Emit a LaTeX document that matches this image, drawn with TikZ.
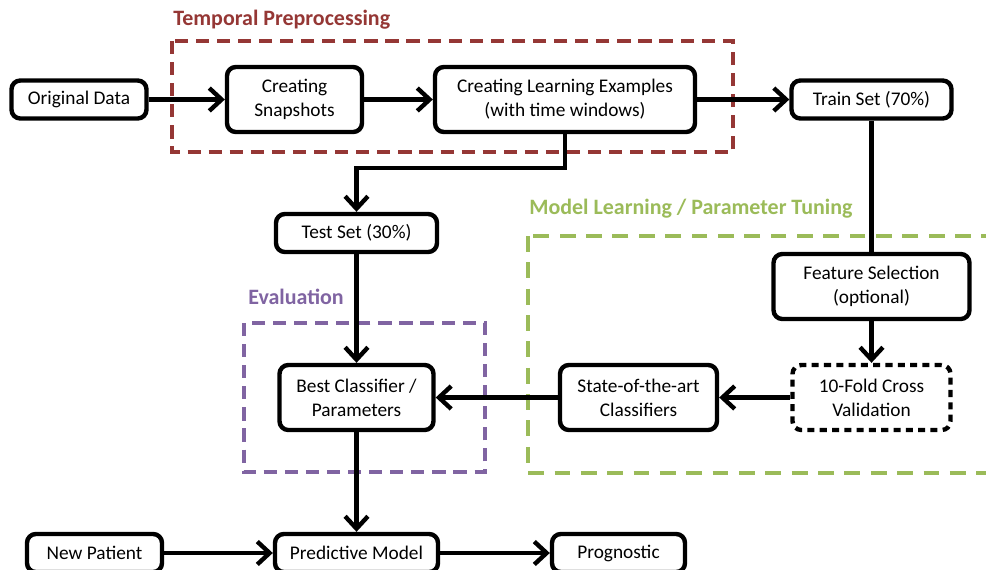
\documentclass[tikz,border=0pt]{standalone}
\usepackage{fontspec}
\setmainfont{Carlito}
\usetikzlibrary{arrows.meta}
\definecolor{prepred}{HTML}{953735}
\definecolor{learngreen}{HTML}{9BBB59}
\definecolor{evalpurple}{HTML}{8064A2}

\begin{document}
\begin{tikzpicture}[
    x=0.02cm, y=-0.02cm,
    font=\fontsize{11}{13.6}\selectfont,
    block/.style={
        draw,
        line width=2.5pt,
        rounded corners=5pt,
        align=center,
        inner sep=2pt,
        fill=white,
        minimum height=0.76cm,
      },
    tall/.style={block, minimum height=1.3cm},
    group/.style={draw=#1, line width=2.5pt, dash pattern=on 7.5pt off 4.5pt},
    grouptitle/.style={text=#1, font=\fontsize{12.5}{15}\selectfont\bfseries, anchor=west, inner sep=0pt},
    flow/.style={line width=2.5pt, -{Straight Barb[length=7pt,width=13pt]}},
  ]
  \useasboundingbox (0,0) rectangle (986,569);
  \clip (0,0) rectangle (986,569);

  \draw[group=prepred] (172,41) rectangle (733,152);
  \draw[group=learngreen, dash pattern=on 9pt off 6pt] (528,236) rectangle (1000,473);
  \draw[group=evalpurple] (244,323) rectangle (485,472);
  \node[grouptitle=prepred] (tprep) at (173,20) {Temporal Preprocessing};
  \node[grouptitle=learngreen] (tlearn) at (529,209) {Model Learning / Parameter Tuning};
  \node[grouptitle=evalpurple] (teval) at (248,297) {Evaluation};

  \node[block, minimum width=2.7cm] (orig) at (79,99.5) {Original Data};
  \node[tall, minimum width=2.7cm] (snap) at (294.5,99.5) {Creating\\Snapshots};
  \node[tall, minimum width=5.2cm] (examples) at (565,99.5) {Creating Learning Examples\\(with time windows)};
  \node[block, minimum width=3.2cm] (train) at (871.5,99.5) {Train Set (70\%)};
  \node[block, minimum width=3.22cm] (test) at (356.5,233) {Test Set (30\%)};
  \node[tall, minimum width=3.92cm] (fsel) at (871.5,286.5) {Feature Selection\\(optional)};
  \node[tall, minimum width=3.16cm, dash pattern=on 4pt off 3pt] (cv) at (871.5,397.5) {10-Fold Cross\\Validation};
  \node[tall, minimum width=3.14cm] (sota) at (638.5,397.5) {State-of-the-art\\Classifiers};
  \node[tall, minimum width=3.08cm] (best) at (356.5,397.5) {Best Classifier /\\Parameters};
  \node[block, minimum width=2.7cm] (patient) at (94.5,553) {New Patient};
  \node[block, minimum width=3.26cm] (model) at (356.5,553) {Predictive Model};
  \node[block, minimum width=2.66cm] (prog) at (618.5,553) {Prognostic};

  \path[flow]
  (orig) edge (snap)
  (snap) edge (examples)
  (examples) edge (train)
  (fsel) edge (cv)
  (cv) edge (sota)
  (sota) edge (best)
  (test) edge (best)
  (best) edge (model)
  (patient) edge (model)
  (model) edge (prog)
  ;
  \draw[line width=2.5pt] (train) -- (fsel);
  \draw[flow] (examples.south) -- ++(0,34) -| (test.north);
\end{tikzpicture}
\end{document}
